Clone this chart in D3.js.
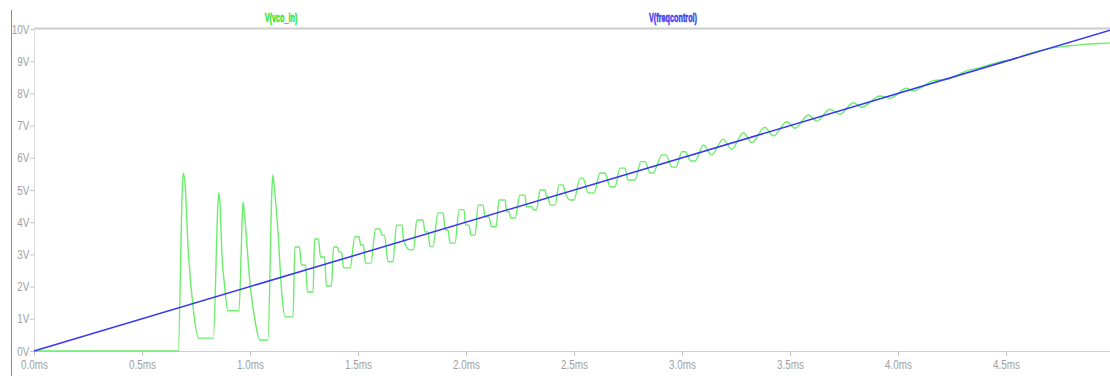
<!DOCTYPE html>
<html>
<head>
<meta charset="utf-8">
<script src="https://cdn.jsdelivr.net/npm/d3@7"></script>
<style>
  html, body { margin: 0; padding: 0; background: #fff; }
  #chart { width: 1110px; height: 376px; overflow: hidden; }
  text { font-family: "Liberation Sans", Arial, sans-serif; }
</style>
</head>
<body>
<div id="chart"></div>
<script>
// trace names
const traceNames = ["V(vco_in)", "V(freqcontrol)"];

// tick values
const timeTicks = [0, 0.5, 1.0, 1.5, 2.0, 2.5, 3.0, 3.5, 4.0, 4.5];
const voltTicks = [0, 1, 2, 3, 4, 5, 6, 7, 8, 9, 10];

// V(freqcontrol): linear ramp [ms, V]
const freqControl = [[0, 0], [5, 10]];

// V(vco_in) [ms, V]
const vcoIn = [
  [0, 0], [0.662, 0], [0.668, 0], [0.686, 4.9], [0.691, 5.53], [0.699, 5.21],
  [0.714, 3.14], [0.738, 1.27], [0.761, 0.40], [0.830, 0.40],
  [0.852, 4.6], [0.856, 4.91], [0.862, 4.5], [0.869, 3.14], [0.882, 2.05], [0.898, 1.25], [0.949, 1.25],
  [0.965, 4.3], [0.968, 4.63], [0.975, 4.2], [1.000, 2.11], [1.023, 0.96], [1.046, 0.34], [1.083, 0.34],
  [1.102, 5.1], [1.106, 5.47], [1.112, 5.1], [1.130, 3.66], [1.146, 1.89], [1.162, 1.06], [1.199, 1.06],
  [1.208, 3.23], [1.229, 3.23], [1.238, 2.67], [1.257, 2.67], [1.266, 1.83], [1.292, 1.83],
  [1.299, 3.48], [1.317, 3.48], [1.326, 2.92], [1.345, 2.92], [1.354, 2.02], [1.377, 2.02],
  [1.387, 3.23], [1.405, 3.23], [1.412, 3.07], [1.424, 3.07], [1.433, 2.58], [1.463, 2.58],
  [1.486, 3.55], [1.505, 3.55], [1.512, 3.29], [1.525, 3.29], [1.535, 2.73], [1.560, 2.73],
  [1.581, 3.79], [1.602, 3.79], [1.611, 3.60], [1.623, 3.60], [1.639, 2.77], [1.662, 2.77],
  [1.678, 3.91], [1.704, 3.91], [1.711, 3.45], [1.741, 3.14], [1.757, 3.14],
  [1.772, 4.07], [1.801, 4.07], [1.810, 3.70], [1.824, 3.70], [1.833, 3.24], [1.847, 3.24],
  [1.870, 4.29], [1.894, 4.29], [1.903, 3.76], [1.917, 3.76], [1.926, 3.35], [1.949, 3.35],
  [1.968, 4.39], [1.991, 4.39], [1.998, 3.91], [2.014, 3.91], [2.023, 3.60], [2.042, 3.60],
  [2.056, 4.53], [2.079, 4.53], [2.088, 4.17], [2.106, 4.17], [2.118, 3.86], [2.139, 3.86],
  [2.153, 4.69], [2.181, 4.69], [2.188, 4.33], [2.199, 4.33], [2.208, 4.13], [2.227, 4.13],
  [2.250, 4.84], [2.273, 4.84], [2.280, 4.48], [2.303, 4.48], [2.315, 4.38], [2.326, 4.38],
  [2.343, 5.00], [2.366, 5.00], [2.373, 4.79], [2.380, 4.79], [2.389, 4.53], [2.412, 4.53],
  [2.431, 5.16], [2.449, 5.16], [2.458, 4.95], [2.481, 4.69], [2.500, 4.69],
  [2.528, 5.37], [2.542, 5.37], [2.551, 5.22], [2.565, 4.91], [2.593, 4.91],
  [2.620, 5.53], [2.644, 5.53], [2.653, 5.37], [2.667, 5.10], [2.690, 5.10],
  [2.713, 5.68], [2.736, 5.68], [2.750, 5.31], [2.782, 5.31],
  [2.810, 5.88], [2.829, 5.88], [2.852, 5.53], [2.866, 5.53],
  [2.907, 6.09], [2.926, 6.09], [2.954, 5.71], [2.972, 5.71],
  [3.000, 6.19], [3.014, 6.19], [3.042, 5.90], [3.060, 5.90],
  [3.099, 6.40], [3.137, 6.09], [3.191, 6.58], [3.230, 6.26],
  [3.284, 6.78], [3.323, 6.47], [3.384, 6.95], [3.423, 6.68],
  [3.485, 7.12], [3.523, 6.92], [3.585, 7.33], [3.624, 7.14],
  [3.685, 7.51], [3.731, 7.35], [3.793, 7.71], [3.832, 7.57],
  [3.917, 7.92], [3.963, 7.85], [4.040, 8.16], [4.069, 8.08],
  [4.162, 8.39], [4.227, 8.44], [4.319, 8.70], [4.380, 8.80],
  [4.472, 8.98], [4.532, 9.06], [4.597, 9.22], [4.704, 9.40],
  [4.782, 9.47], [4.875, 9.53], [4.981, 9.57], [5.0, 9.58]
];

const W = 1110, H = 376;
const margin = { top: 29, left: 34, bottom: 25 };
// squeeze Arial-like text so it reads like the narrow font of the original
const narrowTicks = "scale(0.76,1)";
const narrowTitles = "scale(0.56,1)";

const svg = d3.select("#chart").append("svg")
  .attr("width", W)
  .attr("height", H);

const x = d3.scaleLinear().domain([0, 5]).range([margin.left, margin.left + 1080]);
const y = d3.scaleLinear().domain([0, 10]).range([H - margin.bottom, margin.top]);

// window border on the left
svg.append("line")
  .attr("x1", 11.5).attr("x2", 11.5)
  .attr("y1", 10).attr("y2", H)
  .attr("stroke", "#8a8a8a").attr("stroke-width", 1);

// top frame line
svg.append("line")
  .attr("x1", margin.left).attr("x2", W)
  .attr("y1", y(10) - 0.5).attr("y2", y(10) - 0.5)
  .attr("stroke", "#cdcdcd").attr("stroke-width", 2);

// axes
const xAxis = d3.axisBottom(x)
  .tickValues(timeTicks)
  .tickSize(5)
  .tickSizeOuter(0)
  .tickFormat(d => d3.format(".1f")(d) + "ms");

const yAxis = d3.axisLeft(y)
  .tickValues(voltTicks)
  .tickSize(4)
  .tickSizeOuter(0)
  .tickFormat(d => d + "V");

const gx = svg.append("g")
  .attr("transform", `translate(0, ${y(0)})`)
  .call(xAxis);

const gy = svg.append("g")
  .attr("transform", `translate(${margin.left}, 0)`)
  .call(yAxis);

gx.select(".domain").attr("stroke", "#cfcfcf").attr("d", `M${margin.left},0.5H${W}`);
gy.select(".domain").attr("stroke", "#dcdcdc");
[gx, gy].forEach(g => {
  g.selectAll(".tick line").attr("stroke", "#c4c4c4");
  g.selectAll(".tick text")
    .attr("fill", "#a0a0a0")
    .attr("transform", narrowTicks)
    .style("font-size", "13px")
    .style("font-family", '"Liberation Sans", Arial, sans-serif');
});
gx.selectAll(".tick text").attr("y", 9);
gy.selectAll(".tick text").attr("x", -6);

// traces
const line = d3.line()
  .x(d => x(d[0]))
  .y(d => y(d[1]))
  .curve(d3.curveMonotoneX);

svg.append("path")
  .datum(vcoIn)
  .attr("fill", "none")
  .attr("stroke", "#6aee6a")
  .attr("stroke-width", 1.4)
  .attr("stroke-linejoin", "round")
  .attr("d", line);

svg.append("path")
  .datum(freqControl)
  .attr("fill", "none")
  .attr("stroke", "#3535f5")
  .attr("stroke-width", 1.5)
  .attr("d", d3.line().x(d => x(d[0])).y(d => y(d[1])));

// trace titles
const titles = [
  { name: traceNames[0], cx: 281, color: "#2fe82f" },
  { name: traceNames[1], cx: 673, color: "#3a3af0" }
];
titles.forEach(t => {
  svg.append("g")
    .attr("transform", `translate(${t.cx}, 22) ${narrowTitles}`)
    .append("text")
    .attr("text-anchor", "middle")
    .attr("fill", t.color)
    .attr("stroke", t.color)
    .attr("stroke-width", 0.5)
    .style("font-size", "13px")
    .style("font-weight", "bold")
    .text(t.name);
});
</script>
</body>
</html>
